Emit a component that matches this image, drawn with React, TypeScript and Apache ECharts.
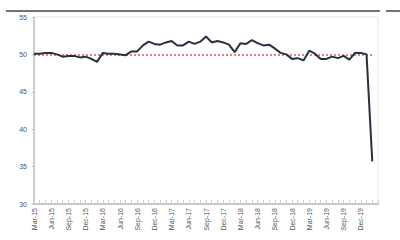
import React, { useEffect, useRef } from "react";
import * as echarts from "echarts";

const months: string[] = [
  "Mar-15", "Apr-15", "May-15", "Jun-15", "Jul-15", "Aug-15", "Sep-15", "Oct-15", "Nov-15", "Dec-15",
  "Jan-16", "Feb-16", "Mar-16", "Apr-16", "May-16", "Jun-16", "Jul-16", "Aug-16", "Sep-16", "Oct-16", "Nov-16", "Dec-16",
  "Jan-17", "Feb-17", "Mar-17", "Apr-17", "May-17", "Jun-17", "Jul-17", "Aug-17", "Sep-17", "Oct-17", "Nov-17", "Dec-17",
  "Jan-18", "Feb-18", "Mar-18", "Apr-18", "May-18", "Jun-18", "Jul-18", "Aug-18", "Sep-18", "Oct-18", "Nov-18", "Dec-18",
  "Jan-19", "Feb-19", "Mar-19", "Apr-19", "May-19", "Jun-19", "Jul-19", "Aug-19", "Sep-19", "Oct-19", "Nov-19", "Dec-19",
  "Jan-20", "Feb-20",
];

const pmi: number[] = [
  50.1, 50.1, 50.2, 50.2, 50.0, 49.7, 49.8, 49.8, 49.6, 49.7,
  49.4, 49.0, 50.2, 50.1, 50.1, 50.0, 49.9, 50.4, 50.4, 51.2, 51.7, 51.4,
  51.3, 51.6, 51.8, 51.2, 51.2, 51.7, 51.4, 51.7, 52.4, 51.6, 51.8, 51.6,
  51.3, 50.3, 51.5, 51.4, 51.9, 51.5, 51.2, 51.3, 50.8, 50.2, 50.0, 49.4,
  49.5, 49.2, 50.5, 50.1, 49.4, 49.4, 49.7, 49.5, 49.8, 49.3, 50.2, 50.2,
  50.0, 35.7,
];

const THRESHOLD = 50;
const Y_MIN = 30;
const Y_MAX = 55;
const Y_STEP = 5;

export default function App() {
  const ref = useRef<HTMLDivElement>(null);
  useEffect(() => {
    if (!ref.current) return;
    const chart = echarts.init(ref.current, null, { renderer: "svg" });
    const font = "'Liberation Sans', Arial, sans-serif";
    chart.setOption({
      animation: false,
      backgroundColor: "#ffffff",
      grid: {
        left: 34,
        right: 22,
        top: 17,
        bottom: 36,
        show: true,
        borderColor: "#e4e4e4",
        borderWidth: 1,
      },
      graphic: [
        { type: "line", shape: { x1: 6, y1: 11, x2: 380, y2: 11 }, style: { stroke: "#444", lineWidth: 1.5 } },
        { type: "line", shape: { x1: 386, y1: 11, x2: 400, y2: 11 }, style: { stroke: "#444", lineWidth: 1.5 } },
      ],
      xAxis: {
        type: "value",
        min: 0,
        max: 60,
        interval: 3,
        splitLine: { show: false },
        axisLine: { show: true, lineStyle: { color: "#c8c8c8", width: 2 } },
        axisTick: { show: true, inside: true, length: 4, lineStyle: { color: "#cfcfcf" } },
        minorTick: { show: true, splitNumber: 3, length: 4, lineStyle: { color: "#cfcfcf" } },
        axisLabel: {
          rotate: 90,
          fontSize: 7,
          color: "#555",
          fontFamily: font,
          margin: 4,
          showMaxLabel: false,
          formatter: (v: number) => (Number.isInteger(v) && months[v] ? months[v] : ""),
        },
      },
      yAxis: {
        type: "value",
        min: Y_MIN,
        max: Y_MAX,
        interval: Y_STEP,
        splitLine: { show: false },
        axisLine: { show: true, lineStyle: { color: "#c0c0c0", width: 1.5 } },
        axisTick: { show: true, length: 2, lineStyle: { color: "#c0c0c0" } },
        axisLabel: { fontSize: 7, color: "#555", fontFamily: font, margin: 7 },
      },
      series: [
        {
          type: "line",
          z: 10,
          data: pmi.map((v, i) => [i, v]),
          symbol: "none",
          lineStyle: { color: "#283040", width: 2 },
          markLine: {
            silent: true,
            symbol: "none",
            label: { show: false },
            lineStyle: { color: "#e8505a", type: [2, 2], width: 1.5 },
            data: [[{ coord: [0, THRESHOLD] }, { coord: [pmi.length - 1, THRESHOLD] }]],
          },
        },
      ],
    });
    return () => chart.dispose();
  }, []);
  return <div ref={ref} style={{ width: 400, height: 240, position: "absolute", left: 0, top: 0 }} />;
}
